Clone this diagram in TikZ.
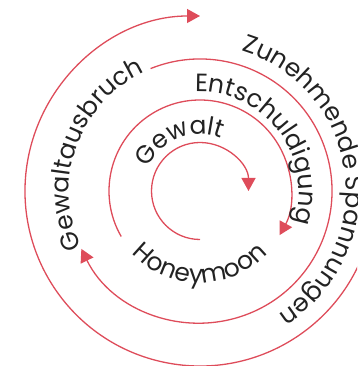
\documentclass[tikz,border=0pt]{standalone}
\usepackage{fontspec}
\setmainfont{Poppins}
\usetikzlibrary{arrows.meta,decorations.text}
\definecolor{spiralred}{RGB}{222,76,90}
\definecolor{txtgray}{RGB}{34,34,34}
\newcommand\lblfont{\fontsize{25}{30}\selectfont}
\begin{document}
\begin{tikzpicture}[x=1pt,y=1pt,
  arcline/.style={draw=spiralred, line width=1.3pt, -{Triangle[length=13pt,width=14pt]}},
  arctext/.style={decorate, decoration={text along path, text align=center, text color=txtgray, text={|\lblfont|#1}}}]
\useasboundingbox (0,0) rectangle (357,366);
\clip (0,0) rectangle (357,366);
\coordinate (C) at (200,175);
% spiral arcs
\draw[arcline] ([shift={(-90:48.5)}]C) arc[start angle=-90, end angle=-360, radius=48.5];
\draw[arcline] ([shift={(-150:91)}]C) arc[start angle=-150, end angle=-389, radius=91];
\draw[arcline] ([shift={(112:132)}]C) arc[start angle=112, end angle=-154, radius=132];
\draw[arcline] ([shift={(-10:175)}]C) arc[start angle=-10, end angle=-270, radius=175];
% labels
\path[arctext={Gewalt}] ([shift={(182:57)}]C) arc[start angle=182, end angle=42, radius=57];
\path[arctext={Entschuldigung}] ([shift={(117:99)}]C) arc[start angle=117, end angle=-43, radius=99];
\path[arctext={Honeymoon}] ([shift={(-170:92)}]C) arc[start angle=-170, end angle=-10, radius=92];
\path[arctext={Gewaltausbruch}] ([shift={(240:131)}]C) arc[start angle=240, end angle=80, radius=131];
\path[arctext={Zunehmende Spannungen}] ([shift={(98:146)}]C) arc[start angle=98, end angle=-82, radius=146];
\end{tikzpicture}
\end{document}
